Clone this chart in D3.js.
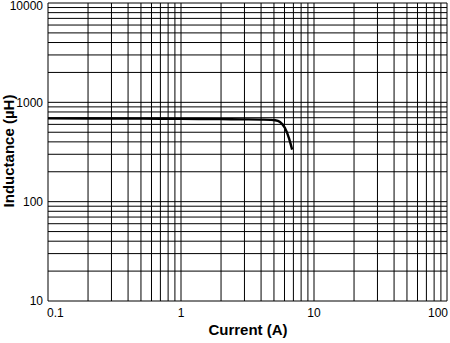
<!DOCTYPE html>
<html><head><meta charset="utf-8">
<script src="https://cdn.jsdelivr.net/npm/d3@7"></script>
<style>body{margin:0;background:#fff}svg{display:block}text{font-family:"Liberation Sans",Arial,sans-serif;fill:#000}</style>
</head><body>
<svg id="c" width="450" height="343"></svg>
<script>
const current =    [0.1, 0.5, 1,   2,   3,   4,   4.7, 5.1, 5.55, 6.05, 6.5, 6.85];
const inductance = [690, 685, 682, 678, 674, 670, 666, 660, 634,  551,  432, 334];
const xTickLabels = ["0.1", "1", "10", "100"];
const yTickLabels = ["10", "100", "1000", "10000"];

const svg = d3.select("#c");
const x = d3.scaleLog().domain([0.1, 100]).range([48, 447]);
const y = d3.scaleLog().domain([10, 10000]).range([301, 3]);

const xGrid = [];
[0.1, 1, 10].forEach(d => { for (let k = 1; k <= 9; k++) xGrid.push(d * k); });
xGrid.push(100);
const yGrid = [];
[10, 100, 1000].forEach(d => { for (let k = 1; k <= 9; k++) yGrid.push(d * k); });
yGrid.push(10000);

const g = svg.append("g");
g.selectAll("line.v").data(xGrid).join("line")
  .attr("x1", d => x(d)).attr("x2", d => x(d))
  .attr("y1", y(10)).attr("y2", y(10000))
  .attr("stroke", "#000").attr("stroke-width", 1);
g.selectAll("line.h").data(yGrid).join("line")
  .attr("y1", d => y(d)).attr("y2", d => y(d))
  .attr("x1", x(0.1)).attr("x2", x(100))
  .attr("stroke", "#000").attr("stroke-width", 1);

// y tick labels
svg.selectAll("text.yt").data(yTickLabels).join("text")
  .attr("x", 43).attr("y", d => Math.max(y(+d), 5.5)).attr("dy", "0.35em")
  .attr("text-anchor", "end").style("font-size", "12px").text(d => d);

// x tick labels
svg.selectAll("text.xt").data(xTickLabels).join("text")
  .attr("x", (d, i) => i === 0 ? x(+d) - 1 : (i === xTickLabels.length - 1 ? x(+d) + 1 : x(+d)))
  .attr("y", 317)
  .attr("text-anchor", (d, i) => i === 0 ? "start" : (i === xTickLabels.length - 1 ? "end" : "middle"))
  .style("font-size", "12px").text(d => d);

// curve
const pts = current.map((c, i) => [c, inductance[i]]);
svg.append("path").datum(pts)
  .attr("fill", "none").attr("stroke", "#000").attr("stroke-width", 2.4)
  .attr("d", d3.line().x(d => x(d[0])).y(d => y(d[1])).curve(d3.curveMonotoneX));

// axis titles
svg.append("text").attr("x", 248).attr("y", 335).attr("text-anchor", "middle")
  .style("font-size", "15px").style("font-weight", "bold").text("Current (A)");
svg.append("text").attr("transform", "translate(9,151) rotate(-90)")
  .attr("text-anchor", "middle").attr("dy", "0.35em")
  .style("font-size", "15px").style("font-weight", "bold").text("Inductance (µH)");
</script>
</body></html>
